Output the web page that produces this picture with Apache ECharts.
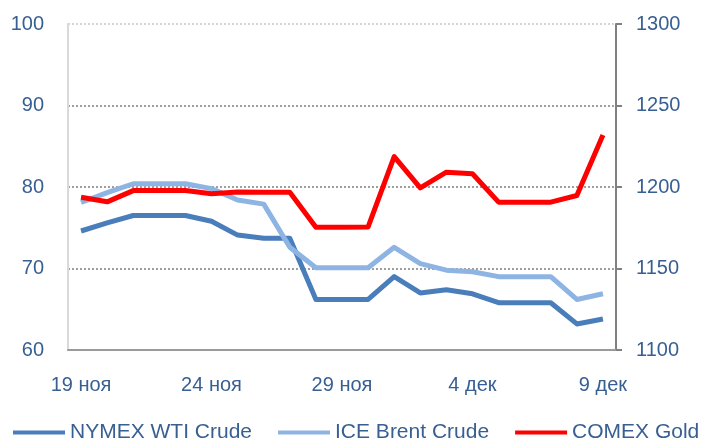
<!DOCTYPE html>
<html>
<head>
<meta charset="utf-8">
<script src="https://cdn.jsdelivr.net/npm/echarts@6/dist/echarts.min.js"></script>
<style>
  html, body { margin: 0; padding: 0; background: #fff; }
  #chart { width: 705px; height: 442px; }
</style>
</head>
<body>
<div id="chart"></div>
<script>
// Daily dates 19 Nov - 9 Dec (weekends carried flat, as in the source)
const dates = [
    '19 ноя', '20 ноя', '21 ноя', '22 ноя', '23 ноя', '24 ноя', '25 ноя', '26 ноя', '27 ноя', '28 ноя',
    '29 ноя', '30 ноя', '1 дек', '2 дек', '3 дек', '4 дек', '5 дек', '6 дек', '7 дек', '8 дек', '9 дек'
];
const wti = [74.6, 75.6, 76.5, 76.5, 76.5, 75.8, 74.1, 73.7, 73.7, 66.2, 66.2, 66.2, 69.0, 67.0, 67.4, 66.9, 65.8, 65.8, 65.8, 63.2, 63.8];
const brent = [78.1, 79.3, 80.4, 80.4, 80.4, 79.8, 78.4, 77.9, 72.6, 70.1, 70.1, 70.1, 72.6, 70.6, 69.8, 69.6, 69.0, 69.0, 69.0, 66.2, 66.9];
const gold = [1193.7, 1190.9, 1197.8, 1197.8, 1197.8, 1195.8, 1197.0, 1196.8, 1196.8, 1175.3, 1175.3, 1175.5, 1218.6, 1199.5, 1209.1, 1208.1, 1190.7, 1190.7, 1190.7, 1194.8, 1231.9];

const textColor = '#375f92';
const font = 'Liberation Sans, Arial, sans-serif';

const chart = echarts.init(document.getElementById('chart'), null, {renderer: 'canvas'});

const lineSeries = (name, data, color, yAxisIndex) => ({
    name: name,
    type: 'line',
    yAxisIndex: yAxisIndex,
    data: data,
    symbol: 'none',
    smooth: false,
    lineStyle: {color: color, width: 5, join: 'round'},
    itemStyle: {color: color},
});

chart.setOption({
    animation: false,
    textStyle: {fontFamily: font},
    grid: {left: 68, right: 89, top: 24, bottom: 92},
    legend: {
        left: 8,
        top: 417,
        icon: 'rect',
        itemWidth: 52,
        itemHeight: 4,
        itemGap: 26,
        textStyle: {color: textColor, fontSize: 21, fontFamily: font},
        data: ['NYMEX WTI Crude', 'ICE Brent Crude', 'COMEX Gold'],
    },
    xAxis: {
        type: 'category',
        data: dates,
        boundaryGap: true,
        axisLine: {lineStyle: {color: '#9a9a9a', width: 2}},
        axisTick: {show: false},
        axisLabel: {interval: 4, margin: 25, color: textColor, fontSize: 20, fontFamily: font},
    },
    yAxis: [
        {
            type: 'value',
            min: 60,
            max: 100,
            interval: 10,
            axisLine: {show: true, lineStyle: {color: '#d9d9d9', width: 2}},
            axisTick: {show: false},
            axisLabel: {margin: 24, color: textColor, fontSize: 20, fontFamily: font},
            splitLine: {
                show: true,
                lineStyle: {
                    type: [2, 2],
                    width: 1.5,
                    color: ['#808080', '#808080', '#808080', '#808080', '#c8c8c8'],
                },
            },
        },
        {
            type: 'value',
            min: 1100,
            max: 1300,
            interval: 50,
            position: 'right',
            axisLine: {show: true, lineStyle: {color: '#808080', width: 2}},
            axisTick: {show: true, inside: false, length: 6, lineStyle: {color: '#808080', width: 2}},
            axisLabel: {margin: 20, color: textColor, fontSize: 20, fontFamily: font, formatter: (v) => String(v)},
            splitLine: {show: false},
        },
    ],
    series: [
        lineSeries('NYMEX WTI Crude', wti, '#4a7ebb', 0),
        lineSeries('ICE Brent Crude', brent, '#8eb4e3', 0),
        lineSeries('COMEX Gold', gold, '#ff0000', 1),
    ],
});
</script>
</body>
</html>
